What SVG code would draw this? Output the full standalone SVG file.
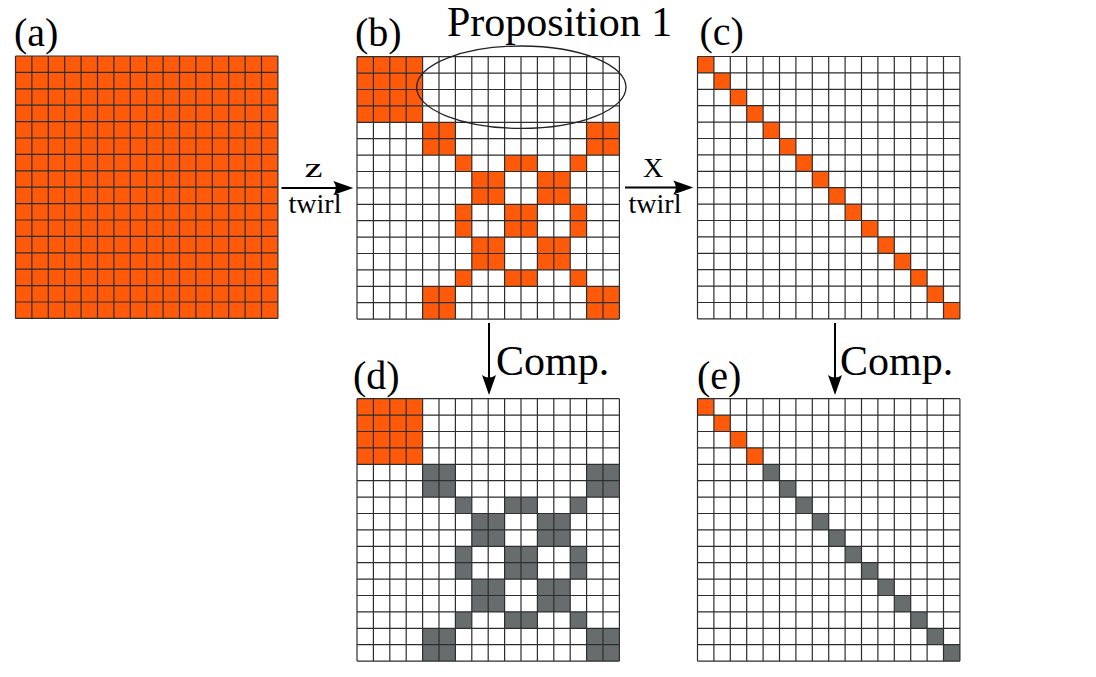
<svg xmlns="http://www.w3.org/2000/svg" xmlns:xlink="http://www.w3.org/1999/xlink" width="1096" height="677" viewBox="0 0 1096 677">
<style>
.or{fill:#ff5a0a}
.gr{fill:#676c6d}
.bg{fill:#ffffff}
.gl{fill:none;stroke:#2e2e2e;stroke-width:1.2}
.t{font-family:"Liberation Serif","Times New Roman",serif;fill:#000}
.lbl{font-size:40px}
.big{font-size:42px}
.sm{font-size:28px}
.arr{stroke:#000;stroke-width:2;fill:none}
</style>
<defs>
<marker id="ah" markerUnits="userSpaceOnUse" viewBox="-21 -8 22 16" refX="-6" refY="0" markerWidth="22" markerHeight="16" orient="auto">
<path d="M0 0L-20 -7Q-15 0 -20 7Z" fill="#000"/>
</marker>
<path id="lines" class="gl" d="M0 0H262.4M0 16.4H262.4M0 32.8H262.4M0 49.2H262.4M0 65.6H262.4M0 82H262.4M0 98.4H262.4M0 114.8H262.4M0 131.2H262.4M0 147.6H262.4M0 164H262.4M0 180.4H262.4M0 196.8H262.4M0 213.2H262.4M0 229.6H262.4M0 246H262.4M0 262.4H262.4M0 0V262.4M16.4 0V262.4M32.8 0V262.4M49.2 0V262.4M65.6 0V262.4M82 0V262.4M98.4 0V262.4M114.8 0V262.4M131.2 0V262.4M147.6 0V262.4M164 0V262.4M180.4 0V262.4M196.8 0V262.4M213.2 0V262.4M229.6 0V262.4M246 0V262.4M262.4 0V262.4"/>
<g id="xpat">
<rect x="65.6" y="65.6" width="32.8" height="32.8"/>
<rect x="229.6" y="65.6" width="32.8" height="32.8"/>
<rect x="65.6" y="229.6" width="32.8" height="32.8"/>
<rect x="229.6" y="229.6" width="32.8" height="32.8"/>
<rect x="98.4" y="98.4" width="16.4" height="16.4"/>
<rect x="147.6" y="98.4" width="32.8" height="16.4"/>
<rect x="213.2" y="98.4" width="16.4" height="16.4"/>
<rect x="114.8" y="114.8" width="32.8" height="32.8"/>
<rect x="180.4" y="114.8" width="32.8" height="32.8"/>
<rect x="98.4" y="147.6" width="16.4" height="32.8"/>
<rect x="147.6" y="147.6" width="32.8" height="32.8"/>
<rect x="213.2" y="147.6" width="16.4" height="32.8"/>
<rect x="114.8" y="180.4" width="32.8" height="32.8"/>
<rect x="180.4" y="180.4" width="32.8" height="32.8"/>
<rect x="98.4" y="213.2" width="16.4" height="16.4"/>
<rect x="147.6" y="213.2" width="32.8" height="16.4"/>
<rect x="213.2" y="213.2" width="16.4" height="16.4"/>
</g>
<g id="diag4">
<rect x="0" y="0" width="16.4" height="16.4"/>
<rect x="16.4" y="16.4" width="16.4" height="16.4"/>
<rect x="32.8" y="32.8" width="16.4" height="16.4"/>
<rect x="49.2" y="49.2" width="16.4" height="16.4"/>
</g>
<g id="diagrest">
<rect x="65.6" y="65.6" width="16.4" height="16.4"/>
<rect x="82" y="82" width="16.4" height="16.4"/>
<rect x="98.4" y="98.4" width="16.4" height="16.4"/>
<rect x="114.8" y="114.8" width="16.4" height="16.4"/>
<rect x="131.2" y="131.2" width="16.4" height="16.4"/>
<rect x="147.6" y="147.6" width="16.4" height="16.4"/>
<rect x="164" y="164" width="16.4" height="16.4"/>
<rect x="180.4" y="180.4" width="16.4" height="16.4"/>
<rect x="196.8" y="196.8" width="16.4" height="16.4"/>
<rect x="213.2" y="213.2" width="16.4" height="16.4"/>
<rect x="229.6" y="229.6" width="16.4" height="16.4"/>
<rect x="246" y="246" width="16.4" height="16.4"/>
</g>
</defs>
<rect width="1096" height="677" fill="#fff"/>

<g id="node-a" transform="translate(15.5,56)">
<rect class="or" width="262.4" height="262.4"/>
<use xlink:href="#lines" href="#lines"/>
</g>
<text class="t lbl" x="14" y="46">(a)</text>

<g id="node-b" transform="translate(357,56.7)">
<rect class="bg" width="262.4" height="262.4"/>
<rect class="or" width="65.6" height="65.6"/>
<use class="or" xlink:href="#xpat" href="#xpat"/>
<use xlink:href="#lines" href="#lines"/>
</g>
<text class="t lbl" x="355" y="46">(b)</text>

<g id="node-c" transform="translate(697.5,56.5)">
<rect class="bg" width="262.4" height="262.4"/>
<use class="or" xlink:href="#diag4" href="#diag4"/>
<use class="or" xlink:href="#diagrest" href="#diagrest"/>
<use xlink:href="#lines" href="#lines"/>
</g>
<text class="t lbl" x="699.5" y="45">(c)</text>

<g id="node-d" transform="translate(357,398.7)">
<rect class="bg" width="262.4" height="262.4"/>
<rect class="or" width="65.6" height="65.6"/>
<use class="gr" xlink:href="#xpat" href="#xpat"/>
<use xlink:href="#lines" href="#lines"/>
</g>
<text class="t lbl" x="353" y="389">(d)</text>

<g id="node-e" transform="translate(697.5,398.7)">
<rect class="bg" width="262.4" height="262.4"/>
<use class="or" xlink:href="#diag4" href="#diag4"/>
<use class="gr" xlink:href="#diagrest" href="#diagrest"/>
<use xlink:href="#lines" href="#lines"/>
</g>
<text class="t lbl" x="697" y="389">(e)</text>

<g id="proposition">
<ellipse cx="521.3" cy="87.2" rx="104.7" ry="41.2" fill="none" stroke="#222" stroke-width="1.3"/>
<text class="t big" x="447" y="36">Proposition 1</text>
</g>

<g id="connectors">
<line class="arr" x1="281.5" y1="188" x2="347.3" y2="188" marker-end="url(#ah)"/>
<text class="t" style="font-size:27px" x="304.5" y="177" textLength="18" lengthAdjust="spacingAndGlyphs">z</text>
<text class="t sm" x="315" y="213" text-anchor="middle">twirl</text>

<line class="arr" x1="625" y1="187.5" x2="687.3" y2="187.5" marker-end="url(#ah)"/>
<text class="t sm" x="653" y="177" text-anchor="middle">X</text>
<text class="t sm" x="655" y="213" text-anchor="middle">twirl</text>

<line class="arr" x1="489" y1="323" x2="489" y2="389" marker-end="url(#ah)"/>
<text class="t big" x="496" y="375">Comp.</text>

<line class="arr" x1="835" y1="323" x2="835" y2="389" marker-end="url(#ah)"/>
<text class="t big" x="840" y="375">Comp.</text>
</g>
</svg>
